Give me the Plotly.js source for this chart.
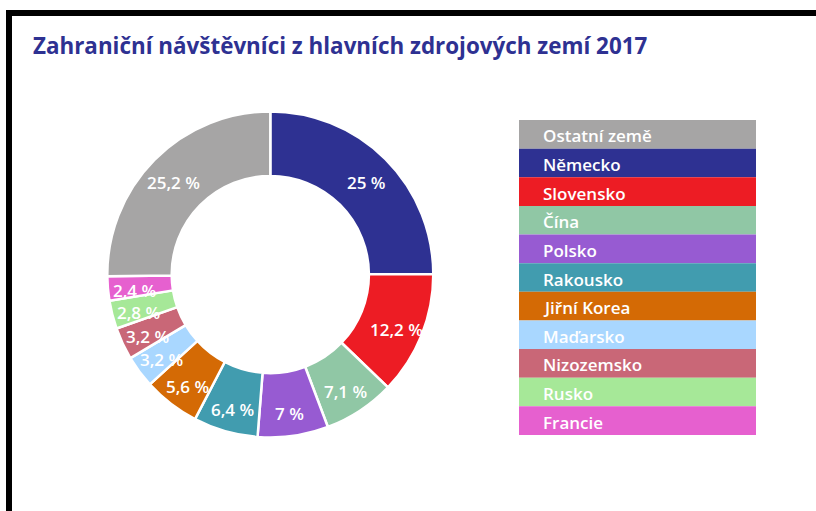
<!DOCTYPE html>
<html><head><meta charset="utf-8">
<script src="https://cdn.plot.ly/plotly-3.0.1.min.js"></script>
<style>html,body{margin:0;padding:0;background:#fff}#chart{width:816px;height:511px}</style>
</head><body><div id="chart"></div>
<script>
// Data (pie order, clockwise from 12 o'clock)
const categories = ["Německo","Slovensko","Čína","Polsko","Rakousko","Jiřní Korea","Maďarsko","Nizozemsko","Rusko","Francie","Ostatní země"];
const shares = [25, 12.2, 7.1, 7, 6.4, 5.6, 3.2, 3.2, 2.8, 2.4, 25.2];
const shareLabels = ["25 %","12,2 %","7,1 %","7 %","6,4 %","5,6 %","3,2 %","3,2 %","2,8 %","2,4 %","25,2 %"];
const colors = ["#2e3192","#ed1c24","#90c7a5","#975bd2","#419caf","#d46a05","#a9d7ff","#c96777","#a6e898","#e660cf","#a6a5a5"];
const legendOrder = ["Ostatní země","Německo","Slovensko","Čína","Polsko","Rakousko","Jiřní Korea","Maďarsko","Nizozemsko","Rusko","Francie"];
const titleText = "Zahraniční návštěvníci z hlavních zdrojových zemí 2017";

const W = 816, H = 511;
const X = px => px / W;
const Y = py => 1 - py / H;

// pie geometry (pixels)
const cx = 270.3, cy = 274.5, R = 163, holeFrac = 0.605;
const labelR = 136, labelShift = 4;

const pie = {
  type: 'pie',
  labels: categories,
  values: shares,
  sort: false,
  direction: 'clockwise',
  rotation: 0,
  hole: holeFrac,
  textinfo: 'none',
  hoverinfo: 'none',
  showlegend: false,
  marker: {colors: colors, line: {color: '#ffffff', width: 2.5}},
  domain: {x: [X(cx - R), X(cx + R)], y: [Y(cy + R), Y(cy - R)]}
};

const annotations = [];
const total = shares.reduce((a, b) => a + b, 0);
let cum = 0;
shares.forEach((v, i) => {
  const th = 2 * Math.PI * (cum + v / 2) / total;
  cum += v;
  const px = cx + labelR * Math.sin(th);
  const py = cy - labelR * Math.cos(th) + labelShift;
  annotations.push({
    xref: 'paper', yref: 'paper', x: X(px), y: Y(py),
    xanchor: 'center', yanchor: 'middle', showarrow: false,
    text: shareLabels[i],
    font: {family: 'Open Sans', size: 17, color: '#ffffff', weight: 600}
  });
});

// custom legend
const shapes = [];
const lx0 = 519, lx1 = 756, ly0 = 120, ly1 = 435;
const rowH = (ly1 - ly0) / legendOrder.length;
legendOrder.forEach((name, k) => {
  const idx = categories.indexOf(name);
  const top = ly0 + k * rowH;
  shapes.push({type: 'rect', xref: 'paper', yref: 'paper',
    x0: X(lx0), x1: X(lx1), y0: Y(top + rowH), y1: Y(top),
    fillcolor: colors[idx], line: {width: 0}});
  annotations.push({
    xref: 'paper', yref: 'paper', x: X(541), y: Y(top + rowH / 2 + 1.5),
    xanchor: 'left', yanchor: 'middle', showarrow: false, text: name,
    font: {family: 'Open Sans', size: 17, color: '#ffffff', weight: 600}
  });
});

// frame
shapes.push({type: 'rect', xref: 'paper', yref: 'paper', x0: X(6), x1: X(816), y0: Y(16), y1: Y(10), fillcolor: '#000', line: {width: 0}});
shapes.push({type: 'rect', xref: 'paper', yref: 'paper', x0: X(6), x1: X(12), y0: Y(511), y1: Y(10), fillcolor: '#000', line: {width: 0}});

const layout = {
  width: W, height: H,
  margin: {l: 0, r: 0, t: 0, b: 0},
  paper_bgcolor: '#ffffff',
  plot_bgcolor: '#ffffff',
  title: {text: '<b>' + titleText + '</b>', x: X(33), xanchor: 'left', y: Y(46), yanchor: 'middle',
          font: {family: 'Open Sans', size: 22.4, color: '#2e3192'}},
  shapes: shapes,
  annotations: annotations,
  showlegend: false
};

Plotly.newPlot('chart', [pie], layout, {displayModeBar: false, staticPlot: true});
</script>
</body></html>
